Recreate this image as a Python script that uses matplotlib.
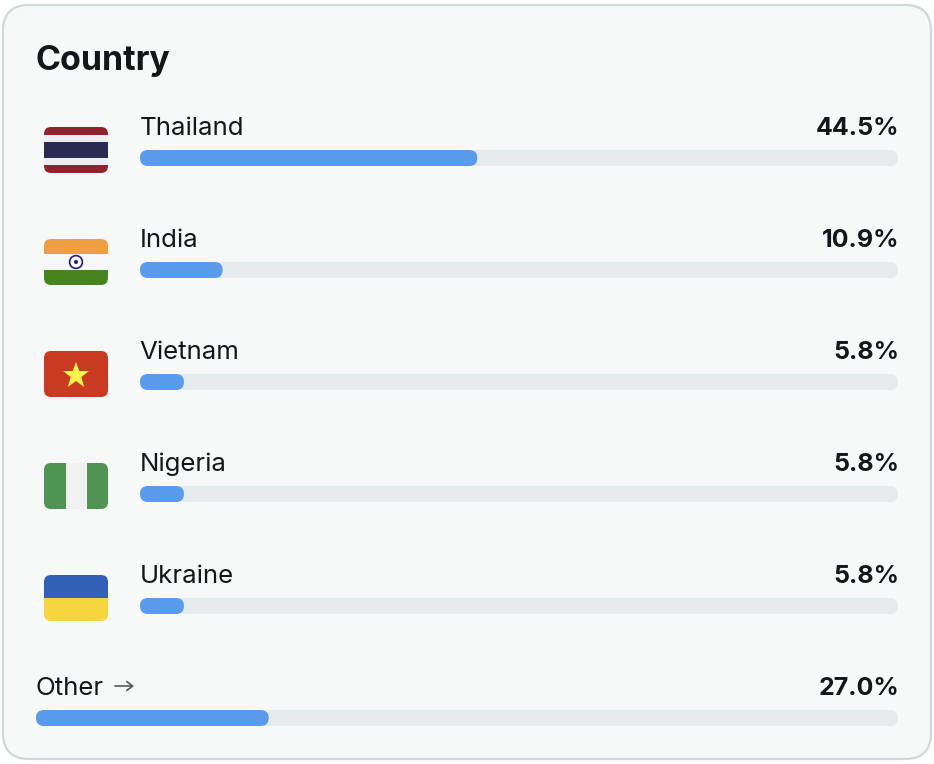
import matplotlib
matplotlib.use("Agg")
import matplotlib.pyplot as plt
from matplotlib.patches import FancyBboxPatch, Rectangle, Circle, Polygon

countries = ["Thailand", "India", "Vietnam", "Nigeria", "Ukraine"]
shares = [44.5, 10.9, 5.8, 5.8, 5.8]
other_label = "Other"
other_share = 27.0

BLUE = "#5b9bec"
TRACK = "#e5eaeb"
INK = "#14171a"
PANEL = "#f7f9f9"
EDGE = "#cfd9d9"

plt.rcParams["font.family"] = ["Inter", "DejaVu Sans"]
fig = plt.figure(figsize=(9.34, 7.64), dpi=100, facecolor="white")
ax = fig.add_axes([0, 0, 1, 1])
ax.set_xlim(0, 934)
ax.set_ylim(764, 0)
ax.axis("off")


def rrect(x0, y0, x1, y1, r, **kw):
    p = FancyBboxPatch((x0 + r, y0 + r), x1 - x0 - 2 * r, y1 - y0 - 2 * r,
                       boxstyle=f"round,pad={r},rounding_size={r}", **kw)
    ax.add_patch(p)
    return p


rrect(3, 5, 931, 759, 26, facecolor=PANEL, edgecolor=EDGE, linewidth=1.6)
ax.text(35.5, 57.5, "Country", fontsize=24.4, fontweight="bold", color=INK, va="center_baseline", ha="left")


def row(label, val, x0, y_text, y_bar):
    x1 = 898
    rrect(x0, y_bar, x1, y_bar + 16, 8, facecolor=TRACK, edgecolor="none")
    w = (x1 - x0) * val / 100
    rrect(x0, y_bar, x0 + w, y_bar + 16, 8, facecolor=BLUE, edgecolor="none")
    ax.text(x0 - 0.5, y_text, label, fontsize=18.6, color=INK, va="center_baseline", ha="left")
    ax.text(x1 + 1, y_text, f"{val:.1f}%", fontsize=18, fontweight="bold", color=INK, va="center_baseline", ha="right")


def flag(y, stripes=None, vertical=None, base=None):
    x0, x1 = 44, 108
    h = 46
    clip = rrect(x0, y, x1, y + h, 7, facecolor=base or "white", edgecolor="none")
    if stripes:
        for a, b, c in stripes:
            r = Rectangle((x0, y + a), x1 - x0, b - a, facecolor=c, edgecolor="none")
            ax.add_patch(r)
            r.set_clip_path(clip)
    if vertical:
        for a, b, c in vertical:
            r = Rectangle((x0 + a, y), b - a, h, facecolor=c, edgecolor="none")
            ax.add_patch(r)
            r.set_clip_path(clip)


ROW0 = 126
STEP = 112
for i, (c, v) in enumerate(zip(countries, shares)):
    row(c, v, 140, ROW0 + i * STEP, ROW0 + 24 + i * STEP)

row(other_label, other_share, 36, ROW0 + 5 * STEP, ROW0 + 24 + 5 * STEP)
ax.annotate("", xy=(134, 686), xytext=(115, 686),
            arrowprops=dict(arrowstyle="->,head_length=0.42,head_width=0.32", color="#555a5e", lw=1.2,
                            shrinkA=0, shrinkB=0))

# Flags
flag(127, stripes=[(0, 8, "#8f2430"), (8, 15, "#eeeef2"), (15, 31, "#2a2a52"),
                   (31, 38, "#eeeef2"), (38, 46, "#8f2430")])
flag(239, stripes=[(0, 15, "#ee9f43"), (15, 31, "#f7f8f9"), (31, 46, "#46841f")])
ax.add_patch(Circle((76, 262), 6.4, facecolor="none", edgecolor="#1f1f78", linewidth=1.2))
ax.add_patch(Circle((76, 262), 2, facecolor="#1f1f78", edgecolor="none"))
flag(351, base="#c93a22")
ax.add_patch(Polygon([(76, 362), (79.3, 371), (89, 371), (81.3, 377), (84.2, 387), (76, 381),
                      (67.8, 387), (70.7, 377), (63, 371), (72.7, 371)],
                     facecolor="#f9f44a", edgecolor="none"))
flag(463, base="#f1f1f1", vertical=[(0, 21.5, "#4f9453"), (42.5, 64, "#4f9453")])
flag(575, stripes=[(0, 23, "#3461b8"), (23, 46, "#f6d53f")])

fig.savefig("out.png", dpi=100, facecolor="white")
